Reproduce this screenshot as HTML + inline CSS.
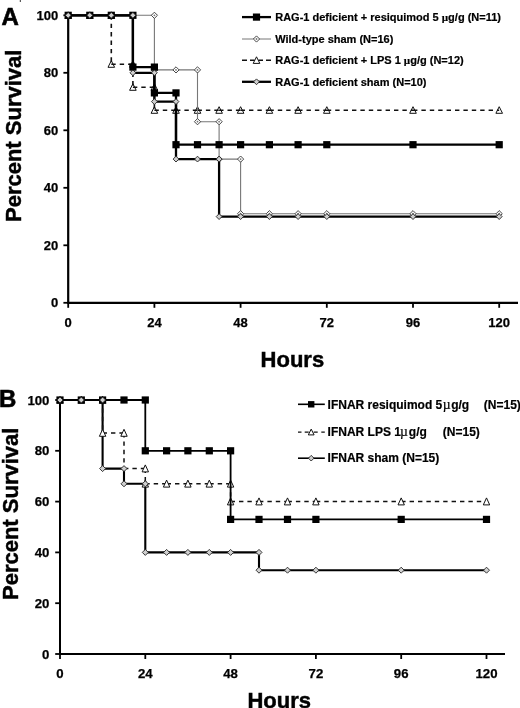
<!DOCTYPE html>
<html lang="en"><head><meta charset="utf-8"><title>Survival curves</title>
<style>
html,body{margin:0;padding:0;background:#fff}
svg{display:block}
text{font-family:"Liberation Sans",Arial,sans-serif;font-weight:bold;fill:#000}
.tk{font-size:13px;stroke:#000;stroke-width:0.25px}
.tkb{font-size:13.2px;stroke:#000;stroke-width:0.25px}
.lg{font-size:11px;stroke:#000;stroke-width:0.2px}
.lgb{font-size:12px;stroke:#000;stroke-width:0.2px}
.ax{font-size:22px;stroke:#000;stroke-width:0.45px}
.pl{font-size:24px;stroke:#000;stroke-width:0.6px}
.mu{font-family:"Liberation Serif","DejaVu Serif",serif;font-weight:bold;font-size:1em}
.mub{font-family:"Liberation Serif","DejaVu Serif",serif;font-weight:normal;font-size:1.14em}
</style></head><body>
<svg width="520" height="708" viewBox="0 0 520 708">
<rect width="520" height="708" fill="#fff"/>
<g id="panelA">
<path d="M68.2 14.5V302.8H518.0" fill="none" stroke="#000" stroke-width="2.2"/>
<path d="M63.4 302.8H68.2" stroke="#000" stroke-width="1.8"/>
<text x="58.3" y="307.2" text-anchor="end" class="tk">0</text>
<path d="M63.4 245.3H68.2" stroke="#000" stroke-width="1.8"/>
<text x="58.3" y="249.7" text-anchor="end" class="tk">20</text>
<path d="M63.4 187.8H68.2" stroke="#000" stroke-width="1.8"/>
<text x="58.3" y="192.2" text-anchor="end" class="tk">40</text>
<path d="M63.4 130.3H68.2" stroke="#000" stroke-width="1.8"/>
<text x="58.3" y="134.7" text-anchor="end" class="tk">60</text>
<path d="M63.4 72.8H68.2" stroke="#000" stroke-width="1.8"/>
<text x="58.3" y="77.2" text-anchor="end" class="tk">80</text>
<path d="M63.4 15.3H68.2" stroke="#000" stroke-width="1.8"/>
<text x="58.3" y="19.7" text-anchor="end" class="tk">100</text>
<path d="M68.2 302.8V307.8" stroke="#000" stroke-width="1.8"/>
<text x="68.2" y="327.0" text-anchor="middle" class="tk">0</text>
<path d="M154.4 302.8V307.8" stroke="#000" stroke-width="1.8"/>
<text x="154.4" y="327.0" text-anchor="middle" class="tk">24</text>
<path d="M240.6 302.8V307.8" stroke="#000" stroke-width="1.8"/>
<text x="240.6" y="327.0" text-anchor="middle" class="tk">48</text>
<path d="M326.8 302.8V307.8" stroke="#000" stroke-width="1.8"/>
<text x="326.8" y="327.0" text-anchor="middle" class="tk">72</text>
<path d="M413.0 302.8V307.8" stroke="#000" stroke-width="1.8"/>
<text x="413.0" y="327.0" text-anchor="middle" class="tk">96</text>
<path d="M499.2 302.8V307.8" stroke="#000" stroke-width="1.8"/>
<text x="499.2" y="327.0" text-anchor="middle" class="tk">120</text>
<path d="M68.2 11.8L71.5 18.4L64.9 18.4Z" fill="#fff" stroke="#111" stroke-width="1"/>
<path d="M89.8 11.8L93.1 18.4L86.5 18.4Z" fill="#fff" stroke="#111" stroke-width="1"/>
<path d="M111.3 11.8L114.6 18.4L108.0 18.4Z" fill="#fff" stroke="#111" stroke-width="1"/>
<path d="M111.3 60.7L114.6 67.3L108.0 67.3Z" fill="#fff" stroke="#111" stroke-width="1"/>
<path d="M132.9 60.7L136.2 67.3L129.6 67.3Z" fill="#fff" stroke="#111" stroke-width="1"/>
<path d="M132.9 83.7L136.2 90.3L129.6 90.3Z" fill="#fff" stroke="#111" stroke-width="1"/>
<path d="M154.4 83.7L157.7 90.3L151.1 90.3Z" fill="#fff" stroke="#111" stroke-width="1"/>
<path d="M154.4 106.7L157.7 113.3L151.1 113.3Z" fill="#fff" stroke="#111" stroke-width="1"/>
<path d="M176.0 106.7L179.3 113.3L172.7 113.3Z" fill="#fff" stroke="#111" stroke-width="1"/>
<path d="M197.5 106.7L200.8 113.3L194.2 113.3Z" fill="#fff" stroke="#111" stroke-width="1"/>
<path d="M219.1 106.7L222.4 113.3L215.8 113.3Z" fill="#fff" stroke="#111" stroke-width="1"/>
<path d="M240.6 106.7L243.9 113.3L237.3 113.3Z" fill="#fff" stroke="#111" stroke-width="1"/>
<path d="M269.4 106.7L272.7 113.3L266.1 113.3Z" fill="#fff" stroke="#111" stroke-width="1"/>
<path d="M298.1 106.7L301.4 113.3L294.8 113.3Z" fill="#fff" stroke="#111" stroke-width="1"/>
<path d="M326.8 106.7L330.1 113.3L323.5 113.3Z" fill="#fff" stroke="#111" stroke-width="1"/>
<path d="M413.0 106.7L416.3 113.3L409.7 113.3Z" fill="#fff" stroke="#111" stroke-width="1"/>
<path d="M499.2 106.7L502.5 113.3L495.9 113.3Z" fill="#fff" stroke="#111" stroke-width="1"/>
<path d="M68.2 15.3L89.8 15.3 M89.8 15.3L111.3 15.3 M111.3 15.3L111.3 64.2 M111.3 64.2L132.9 64.2 M132.9 64.2L132.9 87.2 M132.9 87.2L154.4 87.2 M154.4 87.2L154.4 110.2 M154.4 110.2L176.0 110.2 M176.0 110.2L197.5 110.2 M197.5 110.2L219.1 110.2 M219.1 110.2L240.6 110.2 M240.6 110.2L269.4 110.2 M269.4 110.2L298.1 110.2 M298.1 110.2L326.8 110.2 M326.8 110.2L413.0 110.2 M413.0 110.2L499.2 110.2" fill="none" stroke="#111" stroke-width="1.6" stroke-dasharray="4.4 4"/>
<polyline points="68.2,15.3 154.4,15.3 154.4,69.9 197.5,69.9 197.5,121.7 219.1,121.7 219.1,159.1 240.6,159.1 240.6,213.7 499.2,213.7" fill="none" stroke="#777" stroke-width="1.1"/>
<path d="M68.2 12.2L71.3 15.3L68.2 18.4L65.1 15.3Z" fill="#fff" stroke="#333" stroke-width="0.9"/><circle cx="68.2" cy="15.3" r="0.9" fill="#777"/>
<path d="M89.8 12.2L92.9 15.3L89.8 18.4L86.7 15.3Z" fill="#fff" stroke="#333" stroke-width="0.9"/><circle cx="89.8" cy="15.3" r="0.9" fill="#777"/>
<path d="M111.3 12.2L114.4 15.3L111.3 18.4L108.2 15.3Z" fill="#fff" stroke="#333" stroke-width="0.9"/><circle cx="111.3" cy="15.3" r="0.9" fill="#777"/>
<path d="M132.9 12.2L136.0 15.3L132.9 18.4L129.8 15.3Z" fill="#fff" stroke="#333" stroke-width="0.9"/><circle cx="132.9" cy="15.3" r="0.9" fill="#777"/>
<path d="M154.4 12.2L157.5 15.3L154.4 18.4L151.3 15.3Z" fill="#fff" stroke="#333" stroke-width="0.9"/><circle cx="154.4" cy="15.3" r="0.9" fill="#777"/>
<path d="M154.4 66.8L157.5 69.9L154.4 73.0L151.3 69.9Z" fill="#fff" stroke="#333" stroke-width="0.9"/><circle cx="154.4" cy="69.9" r="0.9" fill="#777"/>
<path d="M176.0 66.8L179.1 69.9L176.0 73.0L172.9 69.9Z" fill="#fff" stroke="#333" stroke-width="0.9"/><circle cx="176.0" cy="69.9" r="0.9" fill="#777"/>
<path d="M197.5 66.8L200.6 69.9L197.5 73.0L194.4 69.9Z" fill="#fff" stroke="#333" stroke-width="0.9"/><circle cx="197.5" cy="69.9" r="0.9" fill="#777"/>
<path d="M197.5 118.6L200.6 121.7L197.5 124.8L194.4 121.7Z" fill="#fff" stroke="#333" stroke-width="0.9"/><circle cx="197.5" cy="121.7" r="0.9" fill="#777"/>
<path d="M219.1 118.6L222.2 121.7L219.1 124.8L216.0 121.7Z" fill="#fff" stroke="#333" stroke-width="0.9"/><circle cx="219.1" cy="121.7" r="0.9" fill="#777"/>
<path d="M219.1 156.0L222.2 159.1L219.1 162.2L216.0 159.1Z" fill="#fff" stroke="#333" stroke-width="0.9"/><circle cx="219.1" cy="159.1" r="0.9" fill="#777"/>
<path d="M240.6 156.0L243.7 159.1L240.6 162.2L237.5 159.1Z" fill="#fff" stroke="#333" stroke-width="0.9"/><circle cx="240.6" cy="159.1" r="0.9" fill="#777"/>
<path d="M240.6 210.6L243.7 213.7L240.6 216.8L237.5 213.7Z" fill="#fff" stroke="#333" stroke-width="0.9"/><circle cx="240.6" cy="213.7" r="0.9" fill="#777"/>
<path d="M269.4 210.6L272.5 213.7L269.4 216.8L266.3 213.7Z" fill="#fff" stroke="#333" stroke-width="0.9"/><circle cx="269.4" cy="213.7" r="0.9" fill="#777"/>
<path d="M298.1 210.6L301.2 213.7L298.1 216.8L295.0 213.7Z" fill="#fff" stroke="#333" stroke-width="0.9"/><circle cx="298.1" cy="213.7" r="0.9" fill="#777"/>
<path d="M326.8 210.6L329.9 213.7L326.8 216.8L323.7 213.7Z" fill="#fff" stroke="#333" stroke-width="0.9"/><circle cx="326.8" cy="213.7" r="0.9" fill="#777"/>
<path d="M413.0 210.6L416.1 213.7L413.0 216.8L409.9 213.7Z" fill="#fff" stroke="#333" stroke-width="0.9"/><circle cx="413.0" cy="213.7" r="0.9" fill="#777"/>
<path d="M499.2 210.6L502.3 213.7L499.2 216.8L496.1 213.7Z" fill="#fff" stroke="#333" stroke-width="0.9"/><circle cx="499.2" cy="213.7" r="0.9" fill="#777"/>
<polyline points="68.2,15.3 132.9,15.3 132.9,67.1 154.4,67.1 154.4,92.9 176.0,92.9 176.0,144.7 499.2,144.7" fill="none" stroke="#000" stroke-width="2.3"/>
<rect x="64.6" y="11.7" width="7.2" height="7.2" fill="#000"/>
<rect x="86.2" y="11.7" width="7.2" height="7.2" fill="#000"/>
<rect x="107.7" y="11.7" width="7.2" height="7.2" fill="#000"/>
<rect x="129.3" y="11.7" width="7.2" height="7.2" fill="#000"/>
<rect x="129.3" y="63.5" width="7.2" height="7.2" fill="#000"/>
<rect x="150.8" y="63.5" width="7.2" height="7.2" fill="#000"/>
<rect x="150.8" y="89.3" width="7.2" height="7.2" fill="#000"/>
<rect x="172.4" y="89.3" width="7.2" height="7.2" fill="#000"/>
<rect x="172.4" y="141.1" width="7.2" height="7.2" fill="#000"/>
<rect x="193.9" y="141.1" width="7.2" height="7.2" fill="#000"/>
<rect x="215.5" y="141.1" width="7.2" height="7.2" fill="#000"/>
<rect x="237.0" y="141.1" width="7.2" height="7.2" fill="#000"/>
<rect x="265.8" y="141.1" width="7.2" height="7.2" fill="#000"/>
<rect x="294.5" y="141.1" width="7.2" height="7.2" fill="#000"/>
<rect x="323.2" y="141.1" width="7.2" height="7.2" fill="#000"/>
<rect x="409.4" y="141.1" width="7.2" height="7.2" fill="#000"/>
<rect x="495.6" y="141.1" width="7.2" height="7.2" fill="#000"/>
<polyline points="68.2,15.3 132.9,15.3 132.9,72.8 154.4,72.8 154.4,101.6 176.0,101.6 176.0,159.1 219.1,159.1 219.1,216.6 499.2,216.6" fill="none" stroke="#000" stroke-width="2.3"/>
<path d="M68.2 12.4L71.1 15.3L68.2 18.2L65.3 15.3Z" fill="#d0d0d0" stroke="#222" stroke-width="0.9"/>
<path d="M89.8 12.4L92.7 15.3L89.8 18.2L86.9 15.3Z" fill="#d0d0d0" stroke="#222" stroke-width="0.9"/>
<path d="M111.3 12.4L114.2 15.3L111.3 18.2L108.4 15.3Z" fill="#d0d0d0" stroke="#222" stroke-width="0.9"/>
<path d="M132.9 12.4L135.8 15.3L132.9 18.2L130.0 15.3Z" fill="#d0d0d0" stroke="#222" stroke-width="0.9"/>
<path d="M132.9 69.9L135.8 72.8L132.9 75.7L130.0 72.8Z" fill="#d0d0d0" stroke="#222" stroke-width="0.9"/>
<path d="M154.4 69.9L157.3 72.8L154.4 75.7L151.5 72.8Z" fill="#d0d0d0" stroke="#222" stroke-width="0.9"/>
<path d="M154.4 98.7L157.3 101.6L154.4 104.5L151.5 101.6Z" fill="#d0d0d0" stroke="#222" stroke-width="0.9"/>
<path d="M176.0 98.7L178.9 101.6L176.0 104.5L173.1 101.6Z" fill="#d0d0d0" stroke="#222" stroke-width="0.9"/>
<path d="M176.0 156.2L178.9 159.1L176.0 162.0L173.1 159.1Z" fill="#d0d0d0" stroke="#222" stroke-width="0.9"/>
<path d="M197.5 156.2L200.4 159.1L197.5 162.0L194.6 159.1Z" fill="#d0d0d0" stroke="#222" stroke-width="0.9"/>
<path d="M219.1 156.2L222.0 159.1L219.1 162.0L216.2 159.1Z" fill="#d0d0d0" stroke="#222" stroke-width="0.9"/>
<path d="M219.1 213.7L222.0 216.6L219.1 219.5L216.2 216.6Z" fill="#d0d0d0" stroke="#222" stroke-width="0.9"/>
<path d="M240.6 213.7L243.5 216.6L240.6 219.5L237.7 216.6Z" fill="#d0d0d0" stroke="#222" stroke-width="0.9"/>
<path d="M269.4 213.7L272.3 216.6L269.4 219.5L266.5 216.6Z" fill="#d0d0d0" stroke="#222" stroke-width="0.9"/>
<path d="M298.1 213.7L301.0 216.6L298.1 219.5L295.2 216.6Z" fill="#d0d0d0" stroke="#222" stroke-width="0.9"/>
<path d="M326.8 213.7L329.7 216.6L326.8 219.5L323.9 216.6Z" fill="#d0d0d0" stroke="#222" stroke-width="0.9"/>
<path d="M413.0 213.7L415.9 216.6L413.0 219.5L410.1 216.6Z" fill="#d0d0d0" stroke="#222" stroke-width="0.9"/>
<path d="M499.2 213.7L502.1 216.6L499.2 219.5L496.3 216.6Z" fill="#d0d0d0" stroke="#222" stroke-width="0.9"/>
<path d="M242 17.1H271" stroke="#000" stroke-width="2.3"/>
<rect x="252.9" y="13.5" width="7.2" height="7.2" fill="#000"/>
<path d="M242 39.0H271" stroke="#777" stroke-width="1"/>
<path d="M256.5 35.9L259.6 39.0L256.5 42.1L253.4 39.0Z" fill="#fff" stroke="#333" stroke-width="0.9"/><circle cx="256.5" cy="39.0" r="0.9" fill="#777"/>
<path d="M242 60.3H247 M266 60.3H271" stroke="#111" stroke-width="1.4"/>
<path d="M256.5 56.8L259.8 63.4L253.2 63.4Z" fill="#fff" stroke="#111" stroke-width="1"/>
<path d="M250.0 60.3H254.5 M258.5 60.3H263.0" stroke="#111" stroke-width="1.4"/>
<path d="M242 81.8H271" stroke="#000" stroke-width="2.3"/>
<path d="M256.5 78.9L259.4 81.8L256.5 84.7L253.6 81.8Z" fill="#d0d0d0" stroke="#222" stroke-width="0.9"/>
<text x="275.2" y="20.6" class="lg">RAG-1 deficient + resiquimod 5 <tspan class="mu">µ</tspan>g/g (N=11)</text>
<text x="275.2" y="42.8" class="lg">Wild-type sham (N=16)</text>
<text x="275.2" y="64.2" class="lg">RAG-1 deficient + LPS 1 <tspan class="mu">µ</tspan>g/g (N=12)</text>
<text x="275.2" y="86.1" class="lg">RAG-1 deficient sham (N=10)</text>
<text x="1.4" y="25.2" class="pl">A</text>
<text transform="translate(21.3 135.8) rotate(-90)" text-anchor="middle" class="ax">Percent Survival</text>
<text x="292.4" y="367.3" text-anchor="middle" class="ax">Hours</text>
<path d="M20.3 0V2" stroke="#333" stroke-width="1"/>
</g>
<g id="panelB">
<path d="M60.0 399.5V654.0H505.0" fill="none" stroke="#000" stroke-width="2.0"/>
<path d="M55.2 654.0H60.0" stroke="#000" stroke-width="1.8"/>
<text x="49.4" y="658.6" text-anchor="end" class="tkb">0</text>
<path d="M55.2 603.2H60.0" stroke="#000" stroke-width="1.8"/>
<text x="49.4" y="607.8" text-anchor="end" class="tkb">20</text>
<path d="M55.2 552.4H60.0" stroke="#000" stroke-width="1.8"/>
<text x="49.4" y="557.0" text-anchor="end" class="tkb">40</text>
<path d="M55.2 501.6H60.0" stroke="#000" stroke-width="1.8"/>
<text x="49.4" y="506.2" text-anchor="end" class="tkb">60</text>
<path d="M55.2 450.8H60.0" stroke="#000" stroke-width="1.8"/>
<text x="49.4" y="455.4" text-anchor="end" class="tkb">80</text>
<path d="M55.2 400.0H60.0" stroke="#000" stroke-width="1.8"/>
<text x="49.4" y="404.6" text-anchor="end" class="tkb">100</text>
<path d="M60.0 654.0V659.0" stroke="#000" stroke-width="1.8"/>
<text x="60.0" y="677.8" text-anchor="middle" class="tkb">0</text>
<path d="M145.3 654.0V659.0" stroke="#000" stroke-width="1.8"/>
<text x="145.3" y="677.8" text-anchor="middle" class="tkb">24</text>
<path d="M230.6 654.0V659.0" stroke="#000" stroke-width="1.8"/>
<text x="230.6" y="677.8" text-anchor="middle" class="tkb">48</text>
<path d="M315.9 654.0V659.0" stroke="#000" stroke-width="1.8"/>
<text x="315.9" y="677.8" text-anchor="middle" class="tkb">72</text>
<path d="M401.2 654.0V659.0" stroke="#000" stroke-width="1.8"/>
<text x="401.2" y="677.8" text-anchor="middle" class="tkb">96</text>
<path d="M486.5 654.0V659.0" stroke="#000" stroke-width="1.8"/>
<text x="486.5" y="677.8" text-anchor="middle" class="tkb">120</text>
<polyline points="60.0,400.0 102.6,400.0 102.6,468.6 124.0,468.6 124.0,483.8 145.3,483.8 145.3,552.4 259.0,552.4 259.0,570.2 486.5,570.2" fill="none" stroke="#000" stroke-width="2.1"/>
<path d="M60.0 400.0L81.3 400.0 M81.3 400.0L102.6 400.0 M102.6 400.0L102.6 433.0 M102.6 433.0L124.0 433.0 M124.0 433.0L124.0 468.6 M124.0 468.6L145.3 468.6 M145.3 468.6L145.3 483.8 M145.3 483.8L166.6 483.8 M166.6 483.8L187.9 483.8 M187.9 483.8L209.3 483.8 M209.3 483.8L230.6 483.8 M230.6 483.8L230.6 501.6 M230.6 501.6L259.0 501.6 M259.0 501.6L287.5 501.6 M287.5 501.6L315.9 501.6 M315.9 501.6L401.2 501.6 M401.2 501.6L486.5 501.6" fill="none" stroke="#111" stroke-width="1.5" stroke-dasharray="4.4 4"/>
<path d="M60.0 396.3L63.2 403.3L56.8 403.3Z" fill="#fff" stroke="#111" stroke-width="1"/>
<path d="M81.3 396.3L84.5 403.3L78.1 403.3Z" fill="#fff" stroke="#111" stroke-width="1"/>
<path d="M102.6 396.3L105.8 403.3L99.4 403.3Z" fill="#fff" stroke="#111" stroke-width="1"/>
<path d="M102.6 429.3L105.8 436.3L99.4 436.3Z" fill="#fff" stroke="#111" stroke-width="1"/>
<path d="M124.0 429.3L127.2 436.3L120.8 436.3Z" fill="#fff" stroke="#111" stroke-width="1"/>
<path d="M145.3 464.9L148.5 471.9L142.1 471.9Z" fill="#fff" stroke="#111" stroke-width="1"/>
<path d="M145.3 480.1L148.5 487.1L142.1 487.1Z" fill="#fff" stroke="#111" stroke-width="1"/>
<path d="M166.6 480.1L169.8 487.1L163.4 487.1Z" fill="#fff" stroke="#111" stroke-width="1"/>
<path d="M187.9 480.1L191.1 487.1L184.7 487.1Z" fill="#fff" stroke="#111" stroke-width="1"/>
<path d="M209.3 480.1L212.5 487.1L206.1 487.1Z" fill="#fff" stroke="#111" stroke-width="1"/>
<path d="M230.6 480.1L233.8 487.1L227.4 487.1Z" fill="#fff" stroke="#111" stroke-width="1"/>
<path d="M230.6 497.9L233.8 504.9L227.4 504.9Z" fill="#fff" stroke="#111" stroke-width="1"/>
<path d="M259.0 497.9L262.2 504.9L255.8 504.9Z" fill="#fff" stroke="#111" stroke-width="1"/>
<path d="M287.5 497.9L290.7 504.9L284.3 504.9Z" fill="#fff" stroke="#111" stroke-width="1"/>
<path d="M315.9 497.9L319.1 504.9L312.7 504.9Z" fill="#fff" stroke="#111" stroke-width="1"/>
<path d="M401.2 497.9L404.4 504.9L398.0 504.9Z" fill="#fff" stroke="#111" stroke-width="1"/>
<path d="M486.5 497.9L489.7 504.9L483.3 504.9Z" fill="#fff" stroke="#111" stroke-width="1"/>
<polyline points="60.0,400.0 145.3,400.0 145.3,450.8 230.6,450.8 230.6,519.4 486.5,519.4" fill="none" stroke="#000" stroke-width="1.8"/>
<rect x="56.4" y="396.4" width="7.2" height="7.2" fill="#000"/>
<rect x="77.7" y="396.4" width="7.2" height="7.2" fill="#000"/>
<rect x="99.0" y="396.4" width="7.2" height="7.2" fill="#000"/>
<rect x="120.4" y="396.4" width="7.2" height="7.2" fill="#000"/>
<rect x="141.7" y="396.4" width="7.2" height="7.2" fill="#000"/>
<rect x="141.7" y="447.2" width="7.2" height="7.2" fill="#000"/>
<rect x="163.0" y="447.2" width="7.2" height="7.2" fill="#000"/>
<rect x="184.3" y="447.2" width="7.2" height="7.2" fill="#000"/>
<rect x="205.7" y="447.2" width="7.2" height="7.2" fill="#000"/>
<rect x="227.0" y="447.2" width="7.2" height="7.2" fill="#000"/>
<rect x="227.0" y="515.8" width="7.2" height="7.2" fill="#000"/>
<rect x="255.4" y="515.8" width="7.2" height="7.2" fill="#000"/>
<rect x="283.9" y="515.8" width="7.2" height="7.2" fill="#000"/>
<rect x="312.3" y="515.8" width="7.2" height="7.2" fill="#000"/>
<rect x="397.6" y="515.8" width="7.2" height="7.2" fill="#000"/>
<rect x="482.9" y="515.8" width="7.2" height="7.2" fill="#000"/>
<path d="M60.0 397.0L63.0 400.0L60.0 403.0L57.0 400.0Z" fill="#d0d0d0" stroke="#222" stroke-width="0.9"/>
<path d="M81.3 397.0L84.3 400.0L81.3 403.0L78.3 400.0Z" fill="#d0d0d0" stroke="#222" stroke-width="0.9"/>
<path d="M102.6 397.0L105.6 400.0L102.6 403.0L99.6 400.0Z" fill="#d0d0d0" stroke="#222" stroke-width="0.9"/>
<path d="M102.6 465.6L105.6 468.6L102.6 471.6L99.6 468.6Z" fill="#d0d0d0" stroke="#222" stroke-width="0.9"/>
<path d="M124.0 465.6L127.0 468.6L124.0 471.6L121.0 468.6Z" fill="#d0d0d0" stroke="#222" stroke-width="0.9"/>
<path d="M124.0 480.8L127.0 483.8L124.0 486.8L121.0 483.8Z" fill="#d0d0d0" stroke="#222" stroke-width="0.9"/>
<path d="M145.3 480.8L148.3 483.8L145.3 486.8L142.3 483.8Z" fill="#d0d0d0" stroke="#222" stroke-width="0.9"/>
<path d="M145.3 549.4L148.3 552.4L145.3 555.4L142.3 552.4Z" fill="#d0d0d0" stroke="#222" stroke-width="0.9"/>
<path d="M166.6 549.4L169.6 552.4L166.6 555.4L163.6 552.4Z" fill="#d0d0d0" stroke="#222" stroke-width="0.9"/>
<path d="M187.9 549.4L190.9 552.4L187.9 555.4L184.9 552.4Z" fill="#d0d0d0" stroke="#222" stroke-width="0.9"/>
<path d="M209.3 549.4L212.3 552.4L209.3 555.4L206.3 552.4Z" fill="#d0d0d0" stroke="#222" stroke-width="0.9"/>
<path d="M230.6 549.4L233.6 552.4L230.6 555.4L227.6 552.4Z" fill="#d0d0d0" stroke="#222" stroke-width="0.9"/>
<path d="M259.0 549.4L262.0 552.4L259.0 555.4L256.0 552.4Z" fill="#d0d0d0" stroke="#222" stroke-width="0.9"/>
<path d="M259.0 567.2L262.0 570.2L259.0 573.2L256.0 570.2Z" fill="#d0d0d0" stroke="#222" stroke-width="0.9"/>
<path d="M287.5 567.2L290.5 570.2L287.5 573.2L284.5 570.2Z" fill="#d0d0d0" stroke="#222" stroke-width="0.9"/>
<path d="M315.9 567.2L318.9 570.2L315.9 573.2L312.9 570.2Z" fill="#d0d0d0" stroke="#222" stroke-width="0.9"/>
<path d="M401.2 567.2L404.2 570.2L401.2 573.2L398.2 570.2Z" fill="#d0d0d0" stroke="#222" stroke-width="0.9"/>
<path d="M486.5 567.2L489.5 570.2L486.5 573.2L483.5 570.2Z" fill="#d0d0d0" stroke="#222" stroke-width="0.9"/>
<path d="M298.0 404.3H324.8" stroke="#000" stroke-width="1.6"/>
<rect x="308.0" y="401.1" width="6.4" height="6.4" fill="#000"/>
<path d="M298.0 432.2H301.5 M304.7 432.2H308.7 M313.7 432.2H317.7 M321.3 432.2H324.8" stroke="#111" stroke-width="1.3"/>
<path d="M311.2 429.1L314.1 434.9L308.3 434.9Z" fill="#fff" stroke="#111" stroke-width="1"/>
<path d="M298.0 458.2H324.8" stroke="#000" stroke-width="1.6"/>
<path d="M311.2 455.4L314.0 458.2L311.2 461.0L308.4 458.2Z" fill="#d0d0d0" stroke="#222" stroke-width="0.9"/>
<text x="327.6" y="408.5" class="lgb">IFNAR resiquimod 5</text>
<text x="442.7" y="408.5" class="lgb"><tspan class="mub">µ</tspan></text>
<text x="451.2" y="408.5" class="lgb">g/g</text>
<text x="483.8" y="408.5" class="lgb">(N=15)</text>
<text x="327.6" y="436.3" class="lgb">IFNAR LPS 1</text>
<text x="400.1" y="436.3" class="lgb"><tspan class="mub">µ</tspan></text>
<text x="408.8" y="436.3" class="lgb">g/g</text>
<text x="442.8" y="436.3" class="lgb">(N=15)</text>
<text x="327.6" y="462.1" class="lgb">IFNAR sham (N=15)</text>
<text x="-1" y="406.6" class="pl">B</text>
<text transform="translate(17.6 513.8) rotate(-90)" text-anchor="middle" class="ax">Percent Survival</text>
<text x="279.2" y="707.7" text-anchor="middle" class="ax">Hours</text>
</g>
</svg>
</body></html>
